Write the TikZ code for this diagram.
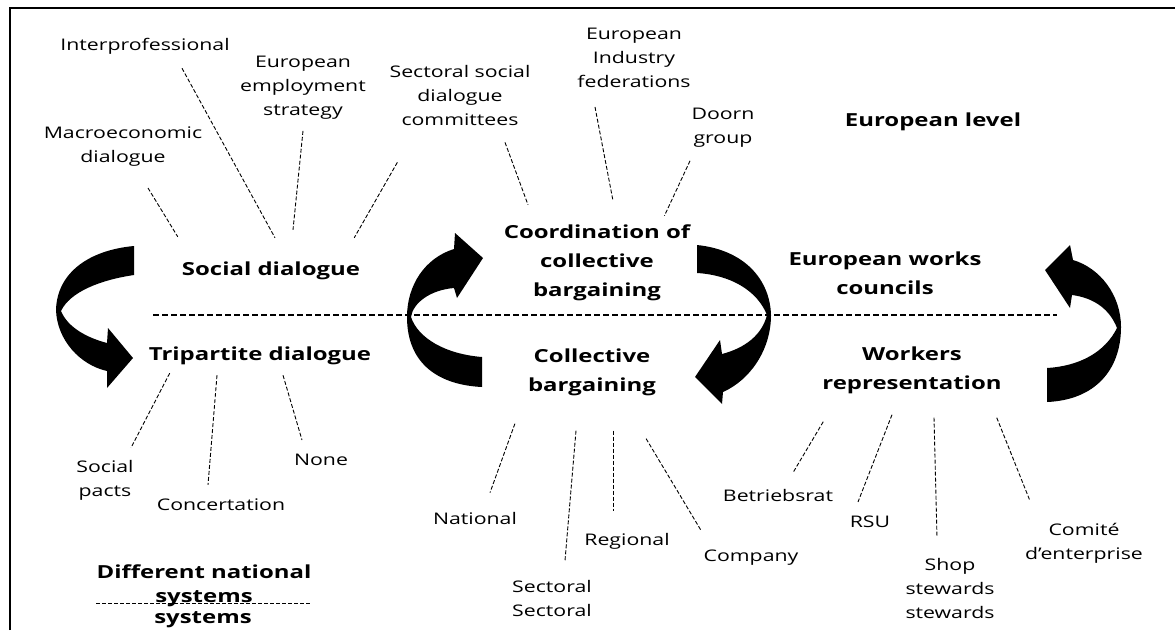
\documentclass[tikz,border=0pt]{standalone}
\usepackage{fontspec}
\setmainfont{Open Sans}[FakeStretch=1.33]

\begin{document}
\begin{tikzpicture}[x=1pt, y=-1pt,
  lbl/.style = {font=\fontsize{16}{24}\selectfont, align=center, inner sep=0pt},
  hub/.style = {font=\fontsize{18}{29}\selectfont\bfseries, align=center, inner sep=0pt},
  link/.style = {line width=0.9pt, dash pattern=on 4pt off 2pt},
  divider/.style = {line width=1.2pt, dash pattern=on 6pt off 3pt}]
                \path[use as bounding box, clip] (0,0) rectangle (1175,630);
                \draw[line width=1.8pt] (10,630) -- (10,8) -- (1175,8);

                % upper level
                \node[hub] (social) at (271,271) {Social dialogue};
                \node[hub] (coord) at (597,263) {Coordination of\\collective\\bargaining};
                \node[hub] (ewc) at (885,273) {European works\\councils};
                \node[hub] (eulevel) at (933,122) {European level};

                \node[lbl] (inter) at (145,46) {Interprofessional};
                \node[lbl] (employ) at (303,88) {European\\employment\\strategy};
                \node[lbl] (macro) at (123,147) {Macroeconomic\\dialogue};
                \node[lbl] (sectsoc) at (460,95) {Sectoral social\\dialogue\\committees};
                \node[lbl] (eif) at (634,58) {European\\Industry\\federations};
                \node[lbl] (doorn) at (723,128) {Doorn\\group};

                % lower level
                \node[hub] (tri) at (260,356) {Tripartite dialogue};
                \node[hub] (coll) at (592,372) {Collective\\bargaining};
                \node[hub] (work) at (912,370) {Workers\\representation};
                \node[hub, font=\fontsize{18}{24}\selectfont\bfseries] (natsys) at (204,586) {Different national\\systems};
                \node[hub] (natsysb) at (203,620) {systems};

                \node[lbl] (pacts) at (105,480) {Social\\pacts};
                \node[lbl] (concert) at (221,505) {Concertation};
                \node[lbl] (none) at (321,460) {None};
                \node[lbl] (national) at (475,518) {National};
                \node[lbl] (sectoral) at (552,598) {Sectoral\\Sectoral};
                \node[lbl] (regional) at (627,541) {Regional};
                \node[lbl] (company) at (751,558) {Company};
                \node[lbl] (betr) at (778,495) {Betriebsrat};
                \node[lbl] (rsu) at (870,522) {RSU};
                \node[lbl] (shop) at (950,588) {Shop\\stewards\\stewards};
                \node[lbl] (comite) at (1084,543) {Comité\\d'enterprise};

                \draw[link] ([shift={(25,21)}]macro.south) -- ([shift={(-4,-25)}]social.north west);
                \draw[link] ([shift={(37,14)}]inter.south) -- ([shift={(4,-24)}]social.north);
                \draw[link] ([shift={(0,11)}]employ.south) -- ([shift={(22,-32)}]social.north);
                \draw[link] ([shift={(8,37)}]sectsoc.south west) -- ([shift={(-6,-24)}]social.north east);
                \draw[link] ([shift={(45,17)}]sectsoc.south) -- ([shift={(-69,-20)}]coord.north);
                \draw[link] ([shift={(-39,19)}]eif.south) -- ([shift={(16,-24)}]coord.north);
                \draw[link] ([shift={(-33,13)}]doorn.south) -- ([shift={(-26,-9)}]coord.north east);

                \draw[link] ([shift={(21,8)}]tri.south west) -- ([shift={(26,-12)}]pacts.north);
                \draw[link] ([shift={(-43,10)}]tri.south) -- ([shift={(-13,-14)}]concert.north);
                \draw[link] ([shift={(23,10)}]tri.south) -- ([shift={(-19,-14)}]none.north);
                \draw[link] ([shift={(-13,28)}]coll.south west) -- ([shift={(15,-19)}]national.north);
                \draw[link] ([shift={(-16,35)}]coll.south) -- ([shift={(13,-19)}]sectoral.north);
                \draw[link] ([shift={(21,35)}]coll.south) -- ([shift={(-14,-22)}]regional.north);
                \draw[link] ([shift={(-10,43)}]coll.south east) -- ([shift={(-2,-19)}]company.north west);
                \draw[link] ([shift={(1,28)}]work.south west) -- ([shift={(15,-16)}]betr.north);
                \draw[link] ([shift={(-20,21)}]work.south) -- ([shift={(-12,-14)}]rsu.north);
                \draw[link] ([shift={(22,24)}]work.south) -- ([shift={(-13,-20)}]shop.north);
                \draw[link] ([shift={(-5,24)}]work.south east) -- ([shift={(5,-22)}]comite.north west);
                \draw[link] ([yshift=4]natsys.south west) -- ([yshift=4]natsys.south east);

                \draw[divider] (153,315) -- (1057,315);

                % turning arrows
                \fill (134,246) .. controls (90,250) and (57,272) .. (56,310)
                  .. controls (57,340) and (80,365) .. (107,371)
                  -- (107,388) -- (133,358) -- (108,328) -- (107,343)
                  .. controls (88,338) and (68,328) .. (61,311)
                  .. controls (70,292) and (100,280) .. (134,275) -- cycle;
                \fill (482,387) .. controls (440,385) and (407,365) .. (407,317)
                  .. controls (407,285) and (425,258) .. (454,249)
                  -- (455,233) -- (483,258) -- (457,298) -- (454,288)
                  .. controls (430,290) and (413,303) .. (411,317)
                  .. controls (418,338) and (445,354) .. (482,357) -- cycle;
                \fill (697,245) .. controls (745,250) and (770,280) .. (771,315)
                  .. controls (771,350) and (750,380) .. (723,392)
                  -- (722,404) -- (695,377) -- (720,340) -- (722,354)
                  .. controls (745,348) and (762,335) .. (767,315)
                  .. controls (757,290) and (730,275) .. (697,273) -- cycle;
                \fill (1047,402) .. controls (1095,400) and (1121,370) .. (1121,327)
                  .. controls (1121,295) and (1100,268) .. (1073,260)
                  -- (1070,245) -- (1045,270) -- (1070,308) -- (1072,295)
                  .. controls (1095,298) and (1110,310) .. (1117,328)
                  .. controls (1105,352) and (1080,366) .. (1047,368) -- cycle;
            \end{tikzpicture}
\end{document}
